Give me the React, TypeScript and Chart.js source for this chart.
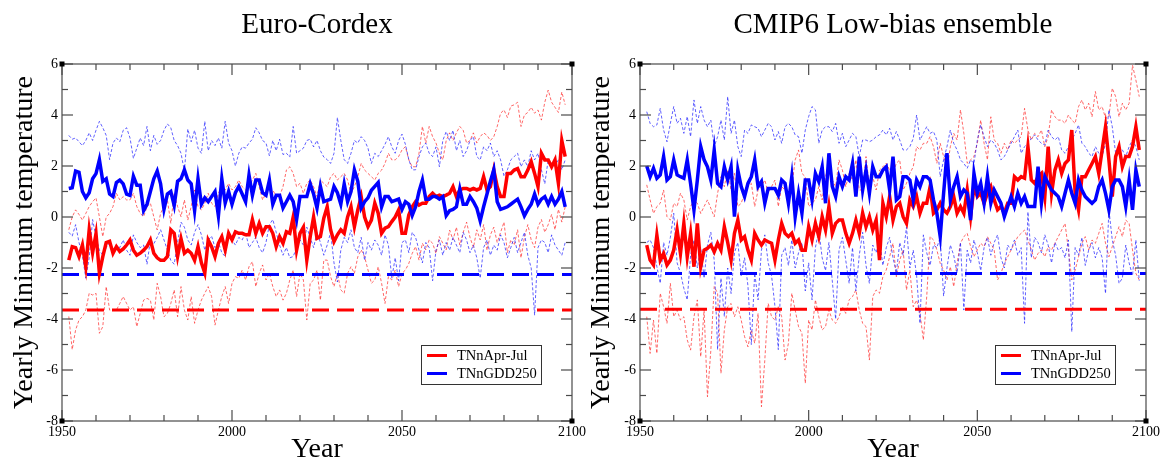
import React, { useEffect, useRef } from 'react';
import { Chart, registerables } from 'chart.js';

Chart.register(...registerables);

const SERIF = "'Liberation Serif', 'Times New Roman', serif";

const YEARS = [
  1952, 1953, 1954, 1955, 1956, 1957, 1958, 1959, 1960, 1961,
  1962, 1963, 1964, 1965, 1966, 1967, 1968, 1969, 1970, 1971,
  1972, 1973, 1974, 1975, 1976, 1977, 1978, 1979, 1980, 1981,
  1982, 1983, 1984, 1985, 1986, 1987, 1988, 1989, 1990, 1991,
  1992, 1993, 1994, 1995, 1996, 1997, 1998, 1999, 2000, 2001,
  2002, 2003, 2004, 2005, 2006, 2007, 2008, 2009, 2010, 2011,
  2012, 2013, 2014, 2015, 2016, 2017, 2018, 2019, 2020, 2021,
  2022, 2023, 2024, 2025, 2026, 2027, 2028, 2029, 2030, 2031,
  2032, 2033, 2034, 2035, 2036, 2037, 2038, 2039, 2040, 2041,
  2042, 2043, 2044, 2045, 2046, 2047, 2048, 2049, 2050, 2051,
  2052, 2053, 2054, 2055, 2056, 2057, 2058, 2059, 2060, 2061,
  2062, 2063, 2064, 2065, 2066, 2067, 2068, 2069, 2070, 2071,
  2072, 2073, 2074, 2075, 2076, 2077, 2078, 2079, 2080, 2081,
  2082, 2083, 2084, 2085, 2086, 2087, 2088, 2089, 2090, 2091,
  2092, 2093, 2094, 2095, 2096, 2097, 2098,
];

const SERIES_LABELS = ['TNnApr-Jul', 'TNnGDD250'];

// ---------------- Euro-Cordex ----------------
const EC_APRJUL_MEAN = [
  -1.69, -1.16, -1.2, -1.55, -1.1, -1.95, -0.5, -1.4, -0.65, -2.2,
  -1.55, -1.0, -0.95, -1.42, -1.16, -1.35, -1.25, -1.1, -0.9, -1.3,
  -1.5, -1.42, -1.3, -1.16, -0.9, -1.42, -1.6, -1.7, -1.7, -1.55,
  -0.5, -0.64, -1.55, -0.85, -1.42, -1.3, -1.42, -1.7, -1.16, -1.8,
  -2.2, -0.9, -1.16, -1.55, -1.03, -0.77, -1.3, -0.64, -0.9, -0.58,
  -0.64, -0.64, -0.7, -0.7, -0.1, -0.64, -0.25, -0.64, -0.38, -0.38,
  -0.64, -1.16, -0.77, -1.03, -0.58, -0.64, 0.0, -1.3, -0.64, -0.4,
  -1.69, -0.77, 0.0, -0.84, -0.77, -0.05, 0.4, -0.5, -0.97, -0.7,
  -0.5, -0.64, 0.0, 0.4, -0.38, 0.28, 0.8, 0.0, -0.38, -0.12,
  0.54, 0.15, -0.64, -0.44, -0.38, -0.18, 0.0, 0.28, -0.64, -0.64,
  0.08, 0.4, 0.6, 0.47, 0.54, 0.54, 0.8, 0.93, 0.8, 0.86,
  0.8, 0.86, 0.93, 1.19, 0.8, 1.06, 1.12, 1.12, 1.06, 1.12,
  1.06, 1.12, 1.58, 1.06, 1.19, 1.84, 1.19, 0.8, 0.8, 1.71,
  1.71, 1.84, 1.9, 1.58, 1.58, 1.84, 2.17, 1.71, 1.19, 2.5,
  2.24, 2.24, 1.97, 2.24, 1.32, 3.0, 2.37,
];
const EC_APRJUL_UPPER = [
  -0.5, 0.0, 0.28, 0.1, -0.12, 0.14, 0.41, 0.6, 0.75, 0.0,
  -0.77, 0.0, 0.14, 0.41, 0.93, 0.67, 0.8, 0.67, 0.67, 0.93,
  0.41, 0.14, 0.01, 0.41, 0.54, 0.01, -0.51, 0.14, 0.41, 0.67,
  -0.25, 0.93, 0.41, 0.01, 0.67, -0.12, 0.41, 1.06, 0.41, 0.28,
  0.54, 0.93, 0.54, 0.41, 0.93, 1.19, 1.06, 1.32, 1.06, 1.19,
  1.45, 1.19, 1.06, 1.19, 1.45, 1.71, 1.19, 0.67, 0.93, 1.06,
  1.06, 0.8, 0.8, 1.19, 1.84, 1.97, 1.71, 1.19, 1.32, 0.93,
  1.32, 1.45, 1.19, 0.8, 1.45, 1.32, 1.19, 1.58, 1.71, 1.45,
  1.58, 1.71, 1.45, 0.93, 1.19, 1.58, 2.1, 1.84, 1.71, 1.58,
  1.45, 1.71, 1.84, 2.1, 2.5, 2.24, 2.24, 2.37, 2.63, 2.76,
  2.24, 1.97, 1.97, 2.5, 3.55, 2.9, 3.55, 3.15, 2.9, 2.5,
  2.24, 3.0, 3.3, 3.0, 3.3, 3.55, 3.4, 2.9, 3.0, 3.3,
  2.9, 3.15, 3.3, 3.2, 3.0, 3.15, 3.55, 4.07, 4.2, 3.9,
  4.35, 4.4, 4.5, 3.55, 4.0, 4.1, 4.3, 4.07, 4.2, 3.8,
  4.5, 4.98, 4.5, 4.3, 4.1, 4.9, 4.4,
];
const EC_APRJUL_LOWER = [
  -3.9, -5.2, -4.43, -4.04, -3.91, -3.65, -2.99, -3.06, -2.99, -4.56,
  -4.3, -2.73, -3.65, -3.65, -3.65, -3.39, -3.12, -3.39, -3.65, -3.52,
  -4.3, -3.78, -3.26, -3.19, -3.26, -4.04, -2.6, -3.12, -3.91, -3.78,
  -3.39, -2.86, -3.91, -2.73, -3.65, -4.04, -3.12, -4.17, -3.65, -3.26,
  -2.99, -2.73, -3.12, -4.24, -3.65, -3.12, -2.73, -3.39, -2.6, -2.34,
  -2.4, -2.08, -2.47, -1.95, -1.75, -2.73, -2.21, -1.88, -2.47, -2.21,
  -2.73, -3.12, -2.86, -3.26, -2.99, -2.47, -2.08, -3.12, -2.21, -2.47,
  -4.04, -2.6, -2.47, -2.08, -3.26, -1.69, -1.69, -2.34, -2.73, -2.21,
  -2.86, -2.99, -2.21, -1.95, -2.21, -1.56, -1.29, -1.56, -2.08, -2.6,
  -2.47, -1.95, -2.6, -3.39, -2.34, -2.47, -2.08, -2.73, -2.21, -2.08,
  -1.82, -1.43, -1.16, -1.69, -1.03, -1.29, -0.9, -1.03, -1.43, -0.77,
  -1.03, -1.29, -0.51, -0.9, -0.4, -1.1, -0.6, -0.2, -0.8, -1.2,
  -0.5, -0.9, -0.3, -1.3, -0.7, -0.4, -1.0, -0.6, -0.2, -1.4,
  -0.9, -1.1, -0.5, -1.6, -0.8, -0.3, -0.9, -1.2, -0.4, -0.1,
  -0.6, -0.3, 0.1, -0.5, 0.3, -0.2, 0.4,
];
const EC_GDD_MEAN = [
  1.12, 1.15, 1.8, 1.75, 1.0, 0.75, 0.95, 1.5, 1.7, 2.25,
  1.4, 1.5, 0.9, 0.8, 1.35, 1.45, 1.3, 0.9, 0.85, 1.6,
  1.25, 1.25, 0.25, 0.5, 1.0, 1.5, 1.8, 1.3, 0.3, 0.9,
  1.0, 0.45, 1.4, 1.5, 1.85, 1.45, 1.3, 0.25, 1.5, 0.5,
  0.75, 0.6, 0.8, 1.0, 0.05, 1.5, 0.55, 1.0, 0.5, 0.95,
  1.2, 0.9, 0.6, 1.65, 0.85, 1.45, 1.45, 0.95, 0.85, 1.45,
  0.5, 0.85, 0.85, 0.35, 0.6, 0.85, 0.6, -0.1, 0.8, 0.8,
  0.8, 1.3, 0.9, 0.35, 1.2, 0.6, 0.65, 0.7, 1.2, 0.95,
  0.5, 1.3, 0.6, 1.0, 1.85, 1.4, 0.35, 0.6, 0.75, 1.05,
  1.2, 1.35, 0.4, 0.8, 0.8, 0.6, 0.65, 0.7, 0.3, 0.6,
  0.5, 0.06, 0.4, 1.0, 1.45, 0.7, 0.7, 0.8, 0.8, 0.7,
  0.8, 0.06, 0.25, 0.3, 0.4, 1.1, 0.5, 0.5, 0.8, 0.6,
  0.35, -0.15, 0.4, 0.9, 1.4, 1.85, 0.6, 0.3, 0.35, 0.4,
  0.5, 0.6, 0.7, 0.4, 0.05, 0.3, 0.5, 0.9, 0.5, 0.7,
  0.8, 0.5, 0.8, 0.5, 0.7, 1.0, 0.4,
];
const EC_GDD_UPPER = [
  3.2, 3.05, 3.1, 2.95, 2.8, 3.0, 3.3, 3.0, 3.4, 3.75,
  3.5, 3.2, 2.25, 2.9, 3.1, 2.95, 3.4, 3.5, 3.1, 2.3,
  2.7, 3.1, 2.8, 3.55, 2.6, 3.2, 2.85, 3.0, 3.4, 3.65,
  3.5, 3.0, 2.8, 2.5, 1.8, 3.45, 2.95, 3.4, 2.7, 2.5,
  3.75, 2.6, 3.0, 2.8, 3.1, 2.7, 3.75, 2.9, 2.6, 2.0,
  2.5, 2.75, 2.7, 2.9, 3.05, 3.5, 3.3, 3.0, 2.9, 2.4,
  3.0, 2.6, 3.05, 2.45, 2.5, 2.35, 3.55, 2.5, 2.6, 2.7,
  3.0, 3.05, 2.75, 3.0, 2.6, 2.35, 2.25, 2.1, 2.5, 3.9,
  3.0, 2.25, 2.1, 2.5, 3.0, 2.9, 3.15, 3.0, 2.7, 2.1,
  2.5, 2.37, 2.6, 2.85, 3.15, 2.75, 2.5, 3.0, 3.25, 2.85,
  2.25, 1.85, 1.85, 2.37, 2.75, 2.9, 2.5, 2.37, 2.75, 1.97,
  3.0, 3.35, 3.0, 3.4, 2.6, 3.0, 2.37, 2.6, 3.0, 3.15,
  2.37, 2.24, 2.75, 2.6, 2.9, 2.37, 2.6, 2.24, 1.6, 1.85,
  2.24, 2.37, 2.5, 1.97, 2.24, 1.97, 2.6, 2.24, 2.5, 1.85,
  1.3, 2.24, 1.97, 1.97, 2.24, 1.85, 2.24,
];
const EC_GDD_LOWER = [
  -0.6, -0.75, -0.3, -1.0, -1.5, -2.4, -1.6, -0.1, -0.8, -1.3,
  -1.5, -1.2, -1.0, -1.4, -1.1, -1.2, -0.9, -1.3, -1.5, -0.7,
  -1.0, -1.2, -1.1, -1.85, -0.9, -1.05, -0.8, -0.5, -0.9, -1.3,
  -1.7, -1.85, -1.0, -0.2, -0.4, -0.9, -1.1, -0.6, -0.3, -0.7,
  -1.3, -0.9, -0.75, -1.2, -1.0, -1.4, -1.55, -0.7, -0.9, -1.1,
  -0.8, -0.9, -0.6, -1.2, -1.0, -0.8, -1.2, -1.4, -1.0, -0.3,
  -0.1, -0.6, -1.1, -1.5, -1.2, -1.6, -1.55, -1.2, -0.9, -1.1,
  -0.4, -0.8, -1.2, -0.6, -1.0, -1.5, -1.1, -0.6, -1.8, -2.55,
  -1.3, -0.8, -1.0, -0.5, -1.2, -1.4, -0.8, -1.7, -1.0, -1.3,
  -0.9, -1.1, -1.5, -0.7, -1.1, -2.4, -1.6, -2.5, -1.0, -0.9,
  -1.4, -0.6, -0.8, -1.3, -1.8, -1.0, -1.2, -2.5, -1.3, -0.9,
  -1.5, -1.0, -1.3, -0.8, -1.1, -1.4, -0.6, -0.9, -1.4, -1.1,
  -1.6, -2.4, -1.2, -0.9, -1.5, -1.1, -1.3, -0.7, -1.0, -1.6,
  -1.2, -0.8, -1.4, -1.0, -0.6, -1.5, -2.0, -3.85, -1.2, -0.9,
  -1.0, -1.4, -0.7, -1.1, -1.3, -1.5, -1.0,
];
const EC_THRESH_APRJUL = -3.65;
const EC_THRESH_GDD = -2.25;

// ---------------- CMIP6 low-bias ensemble ----------------
const CM_APRJUL_MEAN = [
  -1.1, -1.69, -1.88, -0.71, -1.69, -1.43, -1.88, -1.69, -1.3, -0.51,
  -1.43, -0.25, -1.56, -0.64, -1.95, -0.25, -1.95, -1.3, -1.23, -1.1,
  -1.36, -1.03, -1.3, -0.38, -1.0, -1.69, -0.64, -0.12, -0.9, -0.77,
  -1.3, -1.69, -0.64, -0.9, -1.1, -0.9, -0.97, -1.03, -1.69, -0.9,
  -0.25, -0.64, -0.77, -0.64, -1.03, -0.9, -1.3, -1.3, -0.38, -0.9,
  -0.25, -0.77, 0.01, -0.51, 0.41, -0.64, -0.25, -0.12, -0.12, -0.64,
  -1.03, -0.64, -0.12, -0.64, 0.15, -0.38, 0.01, -0.51, -0.12, -1.69,
  0.54, 0.01, 0.8, -0.12, 0.41, 0.54, 0.01, -0.25, 0.67, 0.41,
  0.8, 0.15, 0.54, 0.54, 1.19, 0.15, 0.28, 0.54, 0.28, 0.15,
  0.41, 0.8, 0.15, 0.41, 0.15, 1.06, 0.01, 1.19, 0.8, 0.93,
  0.54, 0.93, 1.19, 0.67, 0.28, 0.41, 0.15, 0.54, 0.54, 1.58,
  1.45, 1.58, 1.52, 2.76, 1.45, 1.32, 1.58, 1.71, 0.8, 2.76,
  0.93, 1.84, 2.24, 1.71, 2.1, 2.24, 3.41, 0.93, 0.28, 1.58,
  1.58, 1.84, 2.1, 2.37, 1.71, 2.63, 3.54, 2.24, 0.8, 2.37,
  2.76, 1.97, 2.37, 2.37, 2.76, 3.54, 2.63,
];
const CM_APRJUL_UPPER = [
  1.26, 0.67, 0.14, 0.41, 0.54, 1.06, 0.01, -0.12, 0.54, 0.41,
  0.93, 0.67, -0.12, 0.41, 0.67, 0.54, 0.14, 0.41, 0.67, 0.34,
  0.01, 0.93, 1.58, 1.19, 1.84, 1.06, 1.71, 0.41, 0.54, 0.93,
  1.19, 1.32, 0.41, 1.06, 1.19, 1.45, 0.93, 1.19, 1.45, 0.41,
  1.19, 1.06, 0.67, 1.19, 2.24, 2.63, 1.71, 1.58, 0.41, 0.54,
  0.67, 1.19, 0.67, 1.58, 2.11, 1.45, 1.19, 2.24, 1.84, 1.19,
  1.71, 1.45, 2.24, 1.06, 1.06, 2.37, 1.19, 1.58, 1.06, 1.84,
  1.97, 2.11, 1.84, 1.71, 2.11, 2.24, 1.06, 1.32, 1.71, 1.97,
  2.76, 2.63, 2.89, 2.89, 3.15, 2.76, 2.11, 2.89, 2.37, 1.84,
  2.76, 3.28, 3.02, 4.2, 3.28, 2.11, 2.24, 2.37, 2.89, 3.8,
  2.89, 2.24, 3.93, 3.02, 2.89, 2.5, 2.89, 2.63, 3.02, 2.89,
  3.02, 3.15, 4.26, 3.41, 3.02, 3.28, 3.15, 3.41, 2.76, 3.15,
  4.2, 3.93, 3.8, 3.8, 3.67, 4.0, 3.8, 3.67, 4.33, 4.59,
  4.2, 4.46, 3.93, 4.92, 4.2, 4.33, 3.87, 3.93, 5.05, 4.72,
  3.93, 4.46, 4.2, 4.46, 5.95, 5.37, 4.72,
];
const CM_APRJUL_LOWER = [
  -3.91, -5.35, -4.04, -5.35, -2.99, -3.52, -4.17, -2.6, -3.91, -3.65,
  -4.04, -3.91, -4.82, -5.22, -3.91, -3.25, -5.48, -3.65, -7.05, -5.22,
  -2.73, -2.99, -6.13, -4.43, -3.52, -3.39, -3.91, -3.52, -4.04, -4.69,
  -5.09, -4.43, -4.95, -3.78, -7.44, -5.61, -3.39, -3.91, -4.04, -3.52,
  -3.91, -5.61, -4.95, -2.99, -3.65, -4.3, -4.56, -6.52, -4.04, -4.43,
  -3.25, -3.91, -4.43, -4.3, -3.65, -4.04, -4.17, -3.91, -3.52, -3.78,
  -3.25, -3.12, -2.86, -3.65, -4.17, -4.3, -5.61, -3.12, -2.86, -2.99,
  -2.34, -2.08, -1.56, -1.03, -2.34, -1.69, -1.29, -2.86, -2.08, -3.52,
  -3.26, -3.78, -4.82, -3.12, -0.77, -0.9, -1.29, -1.82, -2.08, -2.47,
  -1.95, -2.73, -1.82, -1.03, -0.77, -0.64, -1.16, -1.56, -1.29, -1.03,
  -1.16, -0.77, -1.03, -1.29, -2.47, -2.21, -1.82, -1.56, -1.29, -1.03,
  -0.77, -0.64, -0.51, -0.9, -1.29, -1.69, -1.43, -1.29, -1.56, -1.16,
  -1.29, -1.03, -0.77, -0.51, -0.25, -1.29, -2.47, -2.08, -1.56, -1.03,
  -0.77, -1.29, -0.9, -1.03, -0.64, -0.25, -1.03, -1.56, -1.16, -0.77,
  -0.38, -0.77, -0.12, -0.25, -1.29, -2.21, -2.47,
];
const CM_GDD_MEAN = [
  2.0, 1.58, 1.91, 1.52, 1.65, 2.37, 1.45, 1.58, 2.24, 1.65,
  1.58, 1.52, 2.24, 1.3, 0.28, 1.45, 2.76, 2.24, 1.97, 1.45,
  2.63, 1.32, 1.19, 1.97, 1.45, 1.97, 0.01, 1.84, 1.19, 0.8,
  1.32, 1.58, 2.24, 1.19, 1.39, 0.54, 1.12, 1.12, 1.12, 0.86,
  1.45, 1.32, 0.54, 1.58, 0.01, 0.93, 0.15, 1.45, 1.45, 0.67,
  1.71, 1.39, 1.97, 0.54, 2.5, 1.2, 0.8, 1.58, 1.19, 1.58,
  1.45, 2.1, 0.8, 2.37, 1.06, 1.84, 0.93, 1.97, 1.58, 1.58,
  1.84, 1.97, 1.06, 2.37, 0.67, 0.8, 1.58, 1.58, 1.45, 0.67,
  1.45, 1.19, 1.58, 1.58, 1.45, 0.67, 0.15, -0.77, 0.93, 2.5,
  0.67, 1.19, 1.58, 0.8, 1.06, 0.93, -0.12, 1.71, 0.93, 1.32,
  0.54, 1.58, 0.54, 1.06, 0.8, 0.54, 0.01, 0.41, 0.8, 0.41,
  0.93, 0.54, 0.8, 0.41, 0.41, 0.41, 1.97, 0.54, 1.58, 1.32,
  1.06, 0.93, 0.8, 0.41, 0.93, 1.45, 0.93, 0.54, 1.45, 1.06,
  0.8, 0.67, 0.54, 0.67, 1.19, 1.45, 0.93, 0.28, 1.19, 1.45,
  1.45, 1.19, 0.41, 1.45, 0.28, 1.84, 1.19,
];
const CM_GDD_UPPER = [
  4.13, 3.67, 3.54, 3.61, 4.26, 3.41, 2.95, 3.67, 4.33, 3.67,
  3.87, 3.28, 3.94, 3.15, 4.59, 3.67, 4.33, 3.8, 3.54, 3.8,
  2.76, 3.15, 3.8, 3.02, 4.72, 3.28, 3.8, 2.76, 2.37, 3.41,
  3.28, 3.61, 3.54, 3.48, 3.15, 3.41, 3.67, 3.54, 3.02, 3.35,
  2.89, 3.54, 3.67, 3.54, 3.22, 3.15, 2.5, 3.41, 3.94, 4.33,
  4.2, 2.89, 3.41, 3.54, 3.54, 3.35, 3.67, 2.89, 3.28, 2.76,
  3.02, 3.28, 3.15, 2.37, 3.02, 3.02, 2.95, 3.02, 3.15, 3.22,
  3.41, 3.22, 3.48, 3.02, 3.35, 3.02, 2.63, 2.63, 2.76, 3.08,
  4.0, 3.02, 3.28, 3.54, 3.28, 3.35, 3.02, 1.58, 2.24, 2.76,
  3.41, 2.89, 2.63, 2.24, 2.1, 1.91, 2.24, 2.1, 3.02, 3.61,
  3.15, 2.76, 3.02, 2.89, 2.63, 2.24, 2.37, 2.63, 2.89, 3.15,
  3.41, 2.5, 2.76, 2.89, 3.08, 3.22, 3.02, 2.89, 2.82, 3.41,
  3.15, 3.02, 3.15, 2.63, 2.5, 2.76, 3.02, 3.28, 3.61, 2.89,
  2.76, 2.5, 2.37, 2.76, 2.5, 2.37, 2.89, 4.2, 3.54, 2.5,
  2.76, 2.63, 2.37, 2.76, 3.02, 2.76, 2.24,
];
const CM_GDD_LOWER = [
  -1.0, -0.9, -1.2, -1.95, -2.6, -1.0, -1.5, -0.8, 0.15, -1.8,
  -2.2, -2.8, -3.25, -1.5, -0.9, -2.0, -1.2, -2.4, -1.1, -0.6,
  -1.7, -5.2, -2.4, -3.9, -2.0, -3.0, -1.4, -1.0, -2.3, -1.6,
  -2.7, -5.0, -2.2, -3.25, -1.3, -0.7, -1.8, -2.3, -3.5, -5.2,
  -1.5, -1.2, -1.9, -0.9, -2.0, -1.4, -1.0, -2.9, -1.8, -3.25,
  -1.2, -0.5, -1.6, -2.1, -1.0, -2.5, -4.0, -1.3, -0.8, -1.7,
  -2.6, -1.2, -2.9, -1.5, -0.6, -1.9, -2.6, -1.1, -1.4, -0.9,
  -1.9, -1.2, -0.8, -1.6, -2.2, -1.0, -1.5, -0.4, -2.0, -1.3,
  -2.3, -4.17, -0.7, -1.4, -1.9, -1.1, -1.2, -0.8, -3.1, -2.0,
  -1.1, -1.5, -2.2, -1.0, -3.65, -1.3, -1.8, -0.9, -1.4, -2.1,
  -1.2, -0.8, -1.5, -1.0, -0.7, -1.6, -2.0, -1.1, -1.3, -0.9,
  -1.5, -1.2, -4.17, 0.2, -1.6, -0.8, -1.0, -1.4, -0.7, -1.1,
  -1.8, -1.0, -1.3, -1.2, -1.6, -0.9, -4.5, -1.2, -1.5, -0.8,
  -1.9, -1.3, -1.0, -1.6, -1.2, -1.6, -3.0, 0.3, -0.9, -1.5,
  -2.6, -2.4, -1.1, -1.8, -2.3, -0.9, -2.5,
];
const CM_THRESH_APRJUL = -3.62;
const CM_THRESH_GDD = -2.22;

// axes
const X_RANGE = [1950, 2100];
const Y_RANGE = [-8, 6];
const X_TICKS = [1950, 2000, 2050, 2100];
const X_MINOR = [1960, 1970, 1980, 1990, 2010, 2020, 2030, 2040, 2060, 2070, 2080, 2090];
const Y_TICKS = [-8, -6, -4, -2, 0, 2, 4, 6];
const Y_MINOR = [-7, -5, -3, -1, 1, 3, 5];

const RED = '#ff0000';
const BLUE = '#0000ff';
const RED_THIN = 'rgba(255,40,40,0.7)';
const BLUE_THIN = 'rgba(30,30,255,0.7)';
const FRAME = '#4a4a4a';

type PanelCfg = {
  title: string;
  aprMean: number[]; aprUp: number[]; aprLow: number[];
  gddMean: number[]; gddUp: number[]; gddLow: number[];
  threshApr: number; threshGdd: number;
  canvasW: number; yAxisW: number; padRight: number; yTitlePad: number;
};

const pts = (vals: number[]) => YEARS.map((x, i) => ({ x, y: vals[i] }));
const hline = (v: number) => X_RANGE.map((x) => ({ x, y: v }));

function decorPlugin(cfg: PanelCfg) {
  return {
    id: 'decor',
    afterDraw(chart: any) {
      const { ctx, chartArea: a, scales } = chart;
      const xs = scales.x;
      const ys = scales.y;
      ctx.save();
      ctx.strokeStyle = FRAME;
      ctx.lineWidth = 1.2;
      ctx.strokeRect(a.left, a.top, a.right - a.left, a.bottom - a.top);
      const seg = (x1: number, y1: number, x2: number, y2: number) => {
        ctx.beginPath(); ctx.moveTo(x1, y1); ctx.lineTo(x2, y2); ctx.stroke();
      };
      const xt = (vals: number[], len: number) => vals.forEach((v) => {
        const px = xs.getPixelForValue(v);
        seg(px, a.bottom, px, a.bottom - len);
        seg(px, a.top, px, a.top + len);
      });
      const yt = (vals: number[], len: number) => vals.forEach((v) => {
        const py = ys.getPixelForValue(v);
        seg(a.left, py, a.left + len, py);
        seg(a.right, py, a.right - len, py);
      });
      xt(X_TICKS, 11); xt(X_MINOR, 6);
      yt(Y_TICKS, 11); yt(Y_MINOR, 6);
      ctx.fillStyle = '#000';
      [[a.left, a.top], [a.right, a.top], [a.left, a.bottom], [a.right, a.bottom]].forEach(([cx, cy]) => {
        ctx.fillRect(cx - 2.5, cy - 2.5, 5, 5);
      });
      // title
      ctx.font = `29px ${SERIF}`;
      ctx.textAlign = 'center';
      ctx.textBaseline = 'alphabetic';
      ctx.fillText(cfg.title, (a.left + a.right) / 2, 33);
      // legend
      const w = 120, h = 39;
      const bx = a.right - 31 - w;
      const by = 345;
      ctx.fillStyle = '#fff';
      ctx.fillRect(bx, by, w, h);
      ctx.strokeStyle = '#333';
      ctx.lineWidth = 1;
      ctx.strokeRect(bx + 0.5, by + 0.5, w, h);
      const items = [
        { label: SERIES_LABELS[0], color: RED, y: by + 10.5 },
        { label: SERIES_LABELS[1], color: BLUE, y: by + 28.5 },
      ];
      ctx.font = `14.5px ${SERIF}`;
      ctx.textAlign = 'left';
      ctx.textBaseline = 'middle';
      items.forEach((it) => {
        ctx.strokeStyle = it.color;
        ctx.lineWidth = 3;
        seg(bx + 6, it.y, bx + 26, it.y);
        ctx.fillStyle = '#000';
        ctx.fillText(it.label, bx + 36, it.y + 0.5);
      });
      ctx.restore();
    },
  };
}

function buildConfig(cfg: PanelCfg): any {
  const thin = (data: number[], color: string) => ({
    data: pts(data), borderColor: color, borderWidth: 1, borderDash: [3, 2],
  });
  return {
    type: 'line',
    data: {
      datasets: [
        { label: SERIES_LABELS[1], data: pts(cfg.gddMean), borderColor: BLUE, borderWidth: 3.5 },
        { label: SERIES_LABELS[0], data: pts(cfg.aprMean), borderColor: RED, borderWidth: 3.5 },
        { data: hline(cfg.threshGdd), borderColor: BLUE, borderWidth: 3, borderDash: [17, 8] },
        { data: hline(cfg.threshApr), borderColor: RED, borderWidth: 3, borderDash: [17, 8] },
        thin(cfg.gddUp, BLUE_THIN),
        thin(cfg.gddLow, BLUE_THIN),
        thin(cfg.aprUp, RED_THIN),
        thin(cfg.aprLow, RED_THIN),
      ],
    },
    options: {
      animation: false,
      responsive: false,
      devicePixelRatio: 1,
      layout: { padding: { left: 0, right: cfg.padRight, top: 64, bottom: 0 } },
      elements: { point: { radius: 0 }, line: { tension: 0, fill: false } },
      plugins: { legend: { display: false }, tooltip: { enabled: false }, title: { display: false } },
      scales: {
        x: {
          type: 'linear',
          min: X_RANGE[0], max: X_RANGE[1],
          grid: { display: false, drawTicks: false },
          border: { display: false },
          afterBuildTicks: (s: any) => { s.ticks = X_TICKS.map((v) => ({ value: v })); },
          afterFit: (s: any) => { s.height = 43; },
          ticks: {
            color: '#000', padding: 3, maxRotation: 0, autoSkip: false,
            font: { family: SERIF, size: 14 },
            callback: (v: any) => String(v),
          },
          title: {
            display: true, text: 'Year', color: '#000', padding: 0,
            font: { family: SERIF, size: 28, lineHeight: 1 },
          },
        },
        y: {
          type: 'linear',
          min: Y_RANGE[0], max: Y_RANGE[1],
          grid: { display: false, drawTicks: false },
          border: { display: false },
          afterBuildTicks: (s: any) => { s.ticks = Y_TICKS.map((v) => ({ value: v })); },
          afterFit: (s: any) => { s.width = cfg.yAxisW; },
          ticks: {
            color: '#000', padding: 4, autoSkip: false,
            font: { family: SERIF, size: 14 },
            callback: (v: any) => String(v),
          },
          title: {
            display: true, text: 'Yearly Minimum temperature', color: '#000',
            padding: { top: cfg.yTitlePad, bottom: 0 },
            font: { family: SERIF, size: 28, lineHeight: 1 },
          },
        },
      },
    },
    plugins: [decorPlugin(cfg)],
  };
}

const LEFT_PANEL: PanelCfg = {
  title: 'Euro-Cordex',
  aprMean: EC_APRJUL_MEAN, aprUp: EC_APRJUL_UPPER, aprLow: EC_APRJUL_LOWER,
  gddMean: EC_GDD_MEAN, gddUp: EC_GDD_UPPER, gddLow: EC_GDD_LOWER,
  threshApr: EC_THRESH_APRJUL, threshGdd: EC_THRESH_GDD,
  canvasW: 600, yAxisW: 62, padRight: 28, yTitlePad: 11,
};

const RIGHT_PANEL: PanelCfg = {
  title: 'CMIP6 Low-bias ensemble',
  aprMean: CM_APRJUL_MEAN, aprUp: CM_APRJUL_UPPER, aprLow: CM_APRJUL_LOWER,
  gddMean: CM_GDD_MEAN, gddUp: CM_GDD_UPPER, gddLow: CM_GDD_LOWER,
  threshApr: CM_THRESH_APRJUL, threshGdd: CM_THRESH_GDD,
  canvasW: 583, yAxisW: 60, padRight: 17, yTitlePad: 8,
};

function Panel({ cfg, left }: { cfg: PanelCfg; left: number }) {
  const ref = useRef<HTMLCanvasElement>(null);
  useEffect(() => {
    const chart = new Chart(ref.current as HTMLCanvasElement, buildConfig(cfg));
    return () => chart.destroy();
  }, [cfg]);
  return (
    <canvas
      ref={ref}
      width={cfg.canvasW}
      height={464}
      style={{ position: 'absolute', left, top: 0, width: cfg.canvasW, height: 464 }}
    />
  );
}

export default function App() {
  return (
    <div style={{ position: 'fixed', left: 0, top: 0, width: 1163, height: 464, background: '#fff' }}>
      <Panel cfg={LEFT_PANEL} left={0} />
      <Panel cfg={RIGHT_PANEL} left={580} />
    </div>
  );
}
